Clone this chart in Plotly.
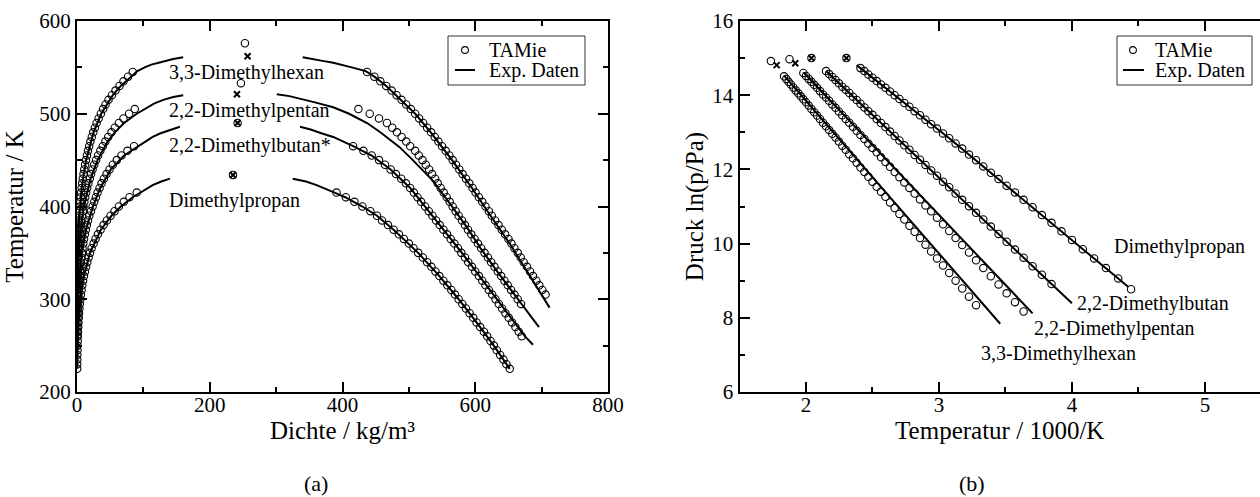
import plotly.graph_objects as go

W, H = 1260, 497
FONT = "Liberation Serif, Times New Roman, Times, serif"

# ---------------- data: TAMie simulation (circles) ----------------
# Dimethylpropan
T_A = [225,230,235,240,245,250,255,260,265,270,275,280,285,290,295,300,305,310,315,320,
       325,330,335,340,345,350,355,360,365,370,375,380,385,390,395,400,405,410,415]
rhoL_A = [652,647,642.5,637.5,632.5,628,623,618,613,607.5,602,597,591.5,586,580.5,575,569.5,564,558,552,
          546,540,534,527.5,521,514,507,500,492.5,485,477,468.5,459.5,452,442,430,418,405,391]
rhoV_A = [0.25,0.33,0.45,0.58,0.7,0.85,1.05,1.3,1.55,1.85,2.25,2.65,3.1,3.65,4.3,5.1,5.9,6.9,8.0,9.2,
          10.5,12.0,13.7,15.5,17.5,19.6,22,25,28,31.5,35.5,40,45,50.5,56.5,63,70.5,79,90]
lnp_A = [8.77,9.06,9.34,9.60,9.85,10.10,10.33,10.56,10.77,10.98,11.18,11.38,11.56,11.74,11.91,12.08,12.25,12.40,12.56,12.70,
         12.84,12.97,13.10,13.22,13.34,13.46,13.57,13.69,13.79,13.90,14.00,14.10,14.20,14.29,14.38,14.47,14.56,14.65,14.73]

# 2,2-Dimethylbutan
T_B = [260,265,270,275,280,285,290,295,300,305,310,315,320,325,330,335,340,345,350,355,360,
       365,370,375,380,385,390,395,400,405,410,415,420,425,430,435,440,445,450,455,460,465]
rhoL_B = [670,665.5,660.5,655.5,650.5,645.5,640.5,635.5,630.5,625.5,620.5,615.5,610.5,605.5,600,595,589.5,584.5,579,574,568.5,
          563,557.5,552,546.5,541,535.5,530,524.5,518.5,513,507.5,502,495.5,488.5,480.5,472.5,464,455,444,431.5,416]
rhoV_B = [0.37,0.46,0.57,0.7,0.85,1.03,1.24,1.48,1.75,2.05,2.4,2.8,3.25,3.8,4.35,5.0,5.7,6.5,7.35,8.3,9.4,
          10.6,11.9,13.3,14.9,16.6,18.5,21,23.5,26,28.5,31,34,37,40.5,44.5,49,54,60,67,76,86]
lnp_B = [8.91,9.16,9.39,9.62,9.84,10.05,10.26,10.46,10.65,10.83,11.01,11.18,11.35,11.52,11.67,11.83,11.97,12.12,12.26,12.39,12.53,
         12.65,12.78,12.90,13.02,13.14,13.25,13.36,13.47,13.57,13.67,13.77,13.87,13.96,14.06,14.15,14.23,14.32,14.41,14.49,14.57,14.65]

# 2,2-Dimethylpentan (coexistence)
T_C = [295,300,305,310,315,320,325,330,335,340,345,350,355,360,365,370,375,380,385,390,395,400,
       405,410,415,420,425,430,435,440,445,450,455,460,465,470,475,480,485,490,495,500,505]
rhoL_C = [669,664,659,654,649,644,639,634,629,624,619,614,609,604,599,594,589,584.5,580,575,570.5,566,
          561.5,557,552.5,548,543.5,539.5,535,530.5,525.5,520.5,515,509.5,502,496,489,482,475,467,455,441,424]
rhoV_C = [0.38,0.47,0.57,0.69,0.83,0.99,1.19,1.41,1.67,1.95,2.27,2.63,3.05,3.53,4.05,4.65,5.3,6.07,6.9,7.8,8.8,9.85,
          11.1,12.4,13.8,15.4,17.2,19.2,21.2,23.4,25.9,28.7,31.8,35.2,38.8,42.7,47,52,57,63,70,78.5,87]
# 2,2-Dimethylpentan (vapour pressure)
Tp_C = [275,280,285,290,295,300,305,310,315,320,325,330,335,340,345,350,355,360,365,370,375,380,385,390,
        395,400,405,410,415,420,425,430,435,440,445,450,455,460,465,470,475,480,485,490,495,500,505]
lnp_C = [8.17,8.42,8.66,8.90,9.12,9.34,9.55,9.76,9.96,10.15,10.34,10.52,10.70,10.87,11.03,11.19,11.35,11.50,11.65,11.79,11.93,12.07,12.20,12.33,
         12.46,12.58,12.70,12.82,12.93,13.04,13.15,13.26,13.36,13.46,13.56,13.66,13.75,13.85,13.94,14.02,14.11,14.20,14.28,14.36,14.44,14.52,14.60]

# 3,3-Dimethylhexan
T_D = [305,310,315,320,325,330,335,340,345,350,355,360,365,370,375,380,385,390,395,400,405,410,415,420,425,
       430,435,440,445,450,455,460,465,470,475,480,485,490,495,500,505,510,515,520,525,530,535,540,545]
rhoL_D = [706,701,696.5,692,687,682.5,678,673,668.5,664,659,654.5,650,645,640,635,630,625,620.5,615.5,610.5,605.5,600.5,596,591,
          586,581,576,571,566,561,555.5,550,544.5,539,533.5,527.5,521.5,515.5,509.5,503,496,489,481.5,474,466,457,448,437]
rhoV_D = [0.19,0.24,0.29,0.35,0.43,0.52,0.62,0.74,0.88,1.04,1.22,1.42,1.65,1.91,2.22,2.56,2.94,3.36,3.83,4.34,4.93,5.57,6.3,7.05,7.9,
          8.75,9.8,10.9,12.2,13.6,15,16.5,18.3,20.2,22.3,24.5,26.9,29.5,32.6,35.9,39.3,43,47.5,52.5,58,64,70,77,84]
lnp_D = [8.34,8.57,8.79,9.00,9.21,9.41,9.60,9.79,9.97,10.15,10.32,10.48,10.65,10.80,10.96,11.11,11.26,11.40,11.53,11.67,11.80,11.93,12.05,12.18,12.30,
         12.41,12.53,12.64,12.75,12.86,12.96,13.06,13.16,13.26,13.36,13.45,13.54,13.63,13.72,13.81,13.89,13.97,14.05,14.13,14.21,14.29,14.36,14.44,14.51]

# critical points: TAMie (circle) and experiment (cross)
critO_T = [434, 490, 533, 576]
critO_rho = [235, 242, 247, 253]
critO_lnp = [15.0, 15.0, 14.97, 14.92]
critX_T = [434, 490, 521, 562]
critX_rho = [235, 242, 241, 257]
critX_lnp = [15.0, 15.0, 14.86, 14.81]

# ---------------- data: experimental lines ----------------
expL_T_A = [225,250,275,300,325,350,375,390,400,410,415,419,423,427,430]
expL_r_A = [652,628,602,575,546,514,477,452,430,404,388,375,361,345,325]
expV_T_A = [225,250,275,300,325,350,375,390,400,410,415,419,423,427,430]
expV_r_A = [0.25,0.85,2.25,5.1,10.5,19.6,36,52,66,84,96,104,114,127,140]

expL_T_B = [251,260,275,300,325,350,375,400,420,440,455,465,470,475,479,483,486]
expL_r_B = [687,675,659,633,607,580,552,524.5,502,472.5,444,416,402,386,368,352,336]
expV_T_B = [251,275,300,325,350,375,400,420,440,455,465,470,475,479,483,486]
expV_r_B = [0.25,0.7,1.75,3.8,7.35,13.5,24,35,51,71,92,102,114,126,141,155]

expL_T_C = [270,300,330,355,378,400,428,450,464,480,490,500,507,512,516,519,521]
expL_r_C = [696,664,633,608,587,565,536,506,486,457,437,410,386,360,336,320,301]
expV_T_C = [270,300,325,350,375,400,430,450,460,470,480,490,500,505,511,515,518,520]
expV_r_C = [0.15,0.5,1.2,2.7,5.5,10.3,20.5,31,38,46,57,71,90,101,116,130,145,160]

expL_T_D = [291,305,330,360,390,420,450,480,500,520,530,540,546,550,555,557,559,561]
expL_r_D = [712,700,679,652,623,595,565,533,509.5,481.5,466,448,435,414,386,370,355,340]
expV_T_D = [291,330,360,390,420,450,480,500,520,530,540,546,550,553,555,557,559,561]
expV_r_D = [0.15,0.5,1.4,3.4,7,13.7,25,36.5,54,66,81,91,102,112,123,133,145,160]

expP_T_A = [226,250,275,300,325,350,375,400,420]
expP_l_A = [8.83,10.10,11.18,12.08,12.84,13.46,14.00,14.47,14.81]
expP_T_B = [250,275,300,350,400,450,465]
expP_l_B = [8.39,9.62,10.65,12.26,13.47,14.41,14.65]
expP_T_C = [270,300,350,400,450,505]
expP_l_C = [8.12,9.52,11.31,12.66,13.71,14.62]
expP_T_D = [289,300,350,400,450,500,545]
expP_l_D = [7.84,8.36,10.32,11.79,12.94,13.85,14.53]

names_left = ["Dimethylpropan", "2,2-Dimethylbutan*", "2,2-Dimethylpentan", "3,3-Dimethylhexan"]
label_left_T = [407, 466, 504, 544]
names_right = ["Dimethylpropan", "2,2-Dimethylbutan", "2,2-Dimethylpentan", "3,3-Dimethylhexan"]
label_right_x = [4.30, 4.02, 3.70, 3.30]
label_right_y = [9.92, 8.38, 7.70, 7.05]

# ---------------- figure ----------------
fig = go.Figure()
circ = dict(symbol="circle-open", size=7.4, color="black", line=dict(width=1.1, color="black"))
xmk = dict(symbol="x-thin-open", size=6, color="black", line=dict(width=2, color="black"))
lstyle = dict(color="black", width=2)

coex = [(T_A, rhoL_A, rhoV_A), (T_B, rhoL_B, rhoV_B), (T_C, rhoL_C, rhoV_C), (T_D, rhoL_D, rhoV_D)]
for T, rl, rv in coex:
    fig.add_trace(go.Scatter(x=list(rv) + list(rl), y=list(T) + list(T), mode="markers",
                             marker=circ, showlegend=False, xaxis="x", yaxis="y"))

explines = [(expV_T_A, expV_r_A, expL_T_A, expL_r_A), (expV_T_B, expV_r_B, expL_T_B, expL_r_B),
            (expV_T_C, expV_r_C, expL_T_C, expL_r_C), (expV_T_D, expV_r_D, expL_T_D, expL_r_D)]
for tv, rv, tl, rl in explines:
    fig.add_trace(go.Scatter(x=list(rv) + [None] + list(rl), y=list(tv) + [None] + list(tl),
                             mode="lines", line=lstyle, showlegend=False, xaxis="x", yaxis="y"))

fig.add_trace(go.Scatter(x=critO_rho, y=critO_T, mode="markers", marker=circ, showlegend=False, xaxis="x", yaxis="y"))
fig.add_trace(go.Scatter(x=critX_rho, y=critX_T, mode="markers", marker=xmk, showlegend=False, xaxis="x", yaxis="y"))

# right panel
press = [(T_A, lnp_A), (T_B, lnp_B), (Tp_C, lnp_C), (T_D, lnp_D)]
for T, lp in press:
    fig.add_trace(go.Scatter(x=[1000.0 / t for t in T], y=lp, mode="markers", marker=circ,
                             showlegend=False, xaxis="x2", yaxis="y2"))
for T, lp in [(expP_T_A, expP_l_A), (expP_T_B, expP_l_B), (expP_T_C, expP_l_C), (expP_T_D, expP_l_D)]:
    fig.add_trace(go.Scatter(x=[1000.0 / t for t in T], y=lp, mode="lines", line=lstyle,
                             showlegend=False, xaxis="x2", yaxis="y2"))
fig.add_trace(go.Scatter(x=[1000.0 / t for t in critO_T], y=critO_lnp, mode="markers", marker=circ,
                         showlegend=False, xaxis="x2", yaxis="y2"))
fig.add_trace(go.Scatter(x=[1000.0 / t for t in critX_T], y=critX_lnp, mode="markers", marker=xmk,
                         showlegend=False, xaxis="x2", yaxis="y2"))

def px(xp):
    return xp / W

def py(yp):
    return (H - yp) / H

ydom = [py(392), py(21)]
axis_common = dict(showline=True, linewidth=2, linecolor="black", ticks="inside", ticklen=10,
                   tickwidth=1.5, tickcolor="black", showgrid=False, zeroline=False,
                   tickfont=dict(family=FONT, size=21, color="black"), automargin=False)

fig.update_layout(
    width=W, height=H, margin=dict(l=0, r=0, t=0, b=0),
    paper_bgcolor="white", plot_bgcolor="white", showlegend=False,
    font=dict(family=FONT, color="black"),
    xaxis=dict(domain=[px(77), px(608)], range=[0, 800], dtick=200, mirror="ticks", ticklabelstandoff=-7,
               minor=dict(dtick=100, ticks="inside", ticklen=5, tickwidth=1.5, tickcolor="black"),
               title=dict(text="Dichte / kg/m³", font=dict(family=FONT, size=25), standoff=0),
               anchor="y", **axis_common),
    yaxis=dict(domain=ydom, range=[200, 600], dtick=100, mirror="ticks",
               minor=dict(dtick=50, ticks="inside", ticklen=5, tickwidth=1.5, tickcolor="black"),
               title=dict(text="Temperatur / K", font=dict(family=FONT, size=25), standoff=9),
               anchor="x", **axis_common),
    xaxis2=dict(domain=[px(739.5), 1.0], range=[1.5, 5.414], dtick=1, mirror="ticks", ticklabelstandoff=-7,
                minor=dict(dtick=0.5, ticks="inside", ticklen=5, tickwidth=1.5, tickcolor="black"),
                title=dict(text="Temperatur / 1000/K", font=dict(family=FONT, size=25), standoff=0),
                anchor="y2", **axis_common),
    yaxis2=dict(domain=ydom, range=[6, 16], dtick=2, mirror=False,
                minor=dict(dtick=1, ticks="inside", ticklen=5, tickwidth=1.5, tickcolor="black"),
                title=dict(text="Druck ln(p/Pa)", font=dict(family=FONT, size=25), standoff=2),
                anchor="x2", **axis_common),
)

ann = []
for name, t in zip(names_left, label_left_T):
    ann.append(dict(x=135.5, y=t, xref="x", yref="y", text=name, showarrow=False,
                    xanchor="left", yanchor="middle", font=dict(family=FONT, size=20, color="black")))
for name, xx, yy in zip(names_right, label_right_x, label_right_y):
    ann.append(dict(x=xx, y=yy, xref="x2", yref="y2", text=name, showarrow=False,
                    xanchor="left", yanchor="middle", font=dict(family=FONT, size=20, color="black")))
ann.append(dict(x=px(316), y=py(483), xref="paper", yref="paper", text="(a)", showarrow=False,
                xanchor="center", yanchor="middle", font=dict(family=FONT, size=22, color="black")))
ann.append(dict(x=px(972), y=py(483), xref="paper", yref="paper", text="(b)", showarrow=False,
                xanchor="center", yanchor="middle", font=dict(family=FONT, size=22, color="black")))

shapes = []
# manual legends
for (bx0, bx1, cx, lx0, lx1, tx) in [(448, 585, 465, 455, 475, 487), (1117, 1252, 1133, 1123, 1144, 1153)]:
    shapes.append(dict(type="rect", xref="paper", yref="paper", x0=px(bx0), x1=px(bx1), y0=py(85), y1=py(36),
                       line=dict(color="#333333", width=1), fillcolor="white", layer="above"))
    shapes.append(dict(type="circle", xref="paper", yref="paper", xsizemode="pixel", ysizemode="pixel",
                       xanchor=px(cx), yanchor=py(50), x0=-3.4, x1=3.4, y0=-3.4, y1=3.4,
                       line=dict(color="black", width=1.1), layer="above"))
    shapes.append(dict(type="line", xref="paper", yref="paper", x0=px(lx0), x1=px(lx1), y0=py(70), y1=py(70),
                       line=dict(color="black", width=2), layer="above"))
    ann.append(dict(x=px(tx), y=py(50), xref="paper", yref="paper", text="TAMie", showarrow=False,
                    xanchor="left", yanchor="middle", font=dict(family=FONT, size=20, color="black")))
    ann.append(dict(x=px(tx), y=py(70), xref="paper", yref="paper", text="Exp. Daten", showarrow=False,
                    xanchor="left", yanchor="middle", font=dict(family=FONT, size=20, color="black")))

fig.update_layout(annotations=ann, shapes=shapes)
fig.write_html("out.html", config={"displayModeBar": False},
               post_script="document.body.style.margin='0px';document.body.style.overflow='hidden';")
